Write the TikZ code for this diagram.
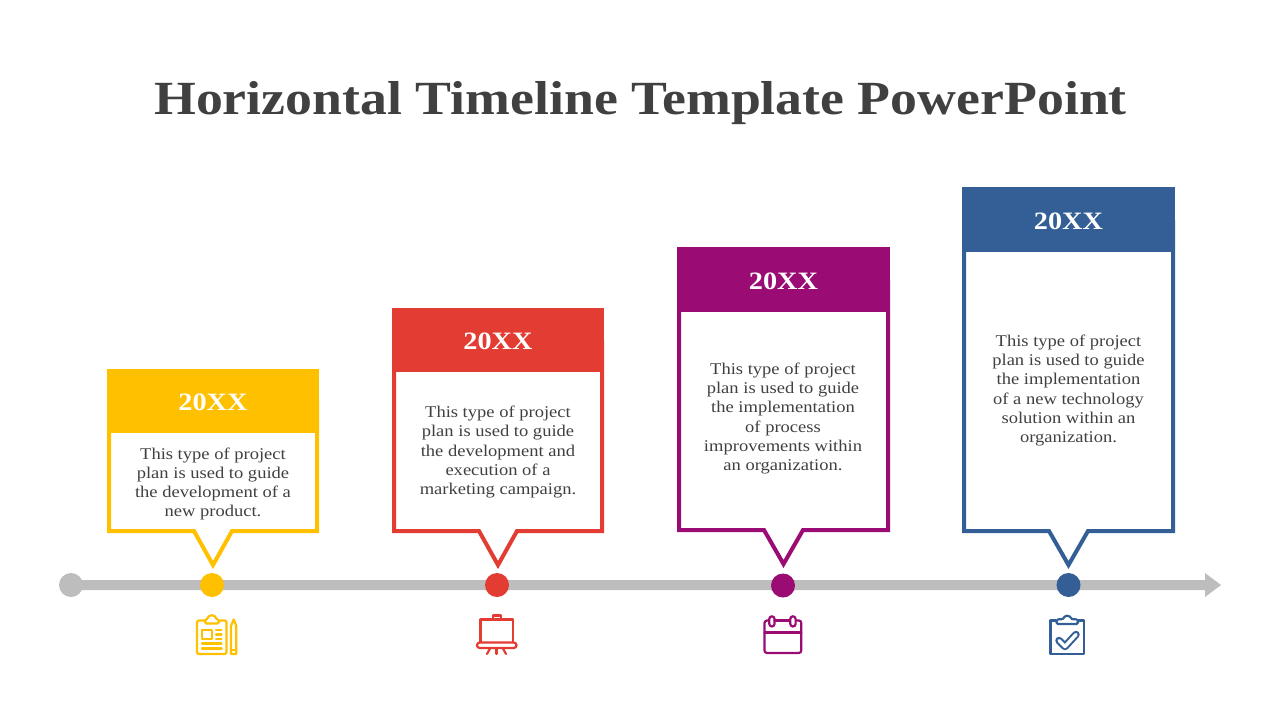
\documentclass[tikz,border=0pt]{standalone}
\usepackage{fontspec}
\setmainfont{Liberation Serif}
\newfontfamily\loosefont[FakeStretch=1.13]{Liberation Serif}
\definecolor{titlegrey}{HTML}{404040}
\definecolor{linegrey}{HTML}{BDBDBD}
\definecolor{planyellow}{HTML}{FFC000}
\definecolor{planred}{HTML}{E33C32}
\definecolor{planpurple}{HTML}{9A0C74}
\definecolor{planblue}{HTML}{335E96}
\begin{document}
\begin{tikzpicture}[x=1pt,y=-1pt,
    header/.style={rectangle,inner sep=0pt,minimum width=212pt,minimum height=64pt,text height=19pt,text depth=0pt,text=white,font=\loosefont\fontsize{25}{30}\selectfont\bfseries},
    callout/.style={line width=4pt,miter limit=10},
    blurb/.style={align=center,inner sep=0pt,text=titlegrey,font=\loosefont\fontsize{16.4}{19.2}\selectfont},
    dot/.style={circle,inner sep=0pt,minimum size=24pt},
    icon/.style={line width=2.2pt,line join=round,line cap=round}]

  \useasboundingbox (0, 0) rectangle (1280, 720);

  \node[text=titlegrey,inner sep=0pt,anchor=base,font=\loosefont\fontsize{47.6}{56}\selectfont\bfseries] (title) at (640.5, 114) {Horizontal Timeline Template PowerPoint};

  % timeline
  \fill[linegrey] (71, 580) -- (1205, 580) -- (1205, 573) -- (1221, 585) -- (1205, 597) -- (1205, 590) -- (71, 590) -- cycle;
  \node[dot,fill=linegrey] (start) at (71, 585) {};
  \node[dot,fill=planyellow] (dot1) at (212, 585) {};
  \node[dot,fill=planred] (dot2) at (497, 585) {};
  \node[dot,fill=planpurple] (dot3) at (783, 585.5) {};
  \node[dot,fill=planblue] (dot4) at (1068.5, 585) {};

  % callouts
  \draw[callout,planyellow] (109, 400) -- (109, 531) -- (194, 531) -- (213, 565) -- (232, 531) -- (317, 531) -- (317, 400);
  \draw[callout,planred] (394, 340) -- (394, 531) -- (479, 531) -- (498, 565) -- (517, 531) -- (602, 531) -- (602, 340);
  \draw[callout,planpurple] (679, 280) -- (679, 530) -- (764, 530) -- (783.5, 564) -- (803, 530) -- (888, 530) -- (888, 280);
  \draw[callout,planblue] (964, 220) -- (964, 531) -- (1049, 531) -- (1068.5, 565) -- (1088, 531) -- (1173, 531) -- (1173, 220);

  \node[header,fill=planyellow] (year1) at (213, 401) {20XX};
  \node[header,fill=planred] (year2) at (498, 340) {20XX};
  \node[header,fill=planpurple,minimum width=213pt,minimum height=65pt] (year3) at (783.5, 279.5) {20XX};
  \node[header,fill=planblue,minimum width=213pt,minimum height=65pt] (year4) at (1068.5, 219.5) {20XX};

  \node[blurb] (text1) at (213, 484) {This type of project\\plan is used to guide\\the development of a\\new product.};
  \node[blurb] (text2) at (498, 452) {This type of project\\plan is used to guide\\the development and\\execution of a\\marketing campaign.};
  \node[blurb] (text3) at (783, 418.5) {This type of project\\plan is used to guide\\the implementation\\of process\\improvements within\\an organization.};
  \node[blurb] (text4) at (1068.5, 390.5) {This type of project\\plan is used to guide\\the implementation\\of a new technology\\solution within an\\organization.};

  % clipboard and pencil
  \begin{scope}[icon,planyellow]
    \draw[rounded corners=2pt] (205, 620.5) -- (197, 620.5) -- (197, 654) -- (226.5, 654) -- (226.5, 620.5) -- (219, 620.5);
    \draw[rounded corners=1.5pt] (205, 623.5) -- (205, 619.5) -- (208, 619) arc (180:360:3.8) -- (219, 619.5) -- (219, 623.5) -- cycle;
    \draw (202, 630) rectangle (212, 639);
    \draw (216, 630) -- (221.5, 630);
    \draw (216, 634.5) -- (221.5, 634.5);
    \draw (216, 639) -- (221.5, 639);
    \draw (202, 643.5) -- (221.5, 643.5);
    \draw[line width=2.5pt] (202, 648.5) -- (221.5, 648.5);
    \draw (231, 626) -- (233.7, 619.5) -- (236.3, 626) -- (236.3, 654) -- (231, 654) -- cycle;
    \draw (231, 650) -- (236.3, 650);
  \end{scope}

  % easel
  \begin{scope}[icon,planred]
    \draw (480.5, 642) -- (480.5, 619.5) -- (513, 619.5) -- (513, 642);
    \draw (492.7, 619.5) -- (492.7, 615.5) -- (500.7, 615.5) -- (500.7, 619.5);
    \draw[rounded corners=2.7pt] (477, 642.5) rectangle (516.5, 648);
    \draw (490, 648.5) -- (487, 654);
    \draw (496.5, 648.5) -- (496.5, 654);
    \draw (503, 648.5) -- (506, 654);
  \end{scope}

  % calendar
  \begin{scope}[icon,planpurple]
    \draw[rounded corners=2.5pt] (769, 620.5) -- (764.5, 620.5) -- (764.5, 653) -- (801.3, 653) -- (801.3, 620.5) -- (796, 620.5);
    \draw (774.5, 620.5) -- (790, 620.5);
    \draw (764.5, 632.5) -- (801.3, 632.5);
    \draw[rounded corners=2.6pt] (769.3, 616.3) rectangle (774.5, 626.5);
    \draw[rounded corners=2.6pt] (790.3, 616.3) rectangle (795.6, 626.5);
  \end{scope}

  % checklist
  \begin{scope}[icon,planblue]
    \draw (1056, 620.5) -- (1050.5, 620.5) -- (1050.5, 654) -- (1084, 654) -- (1084, 620.5) -- (1078, 620.5);
    \draw[rounded corners=1.5pt] (1056.5, 624) -- (1056.5, 619.5) -- (1064, 619) arc (180:360:3.3) -- (1078, 619.5) -- (1078, 624) -- cycle;
    \draw[line width=2pt,double=white,double distance=3.5pt] (1059, 640.5) -- (1065, 646.5) -- (1076, 634.5);
  \end{scope}

\end{tikzpicture}
\end{document}
